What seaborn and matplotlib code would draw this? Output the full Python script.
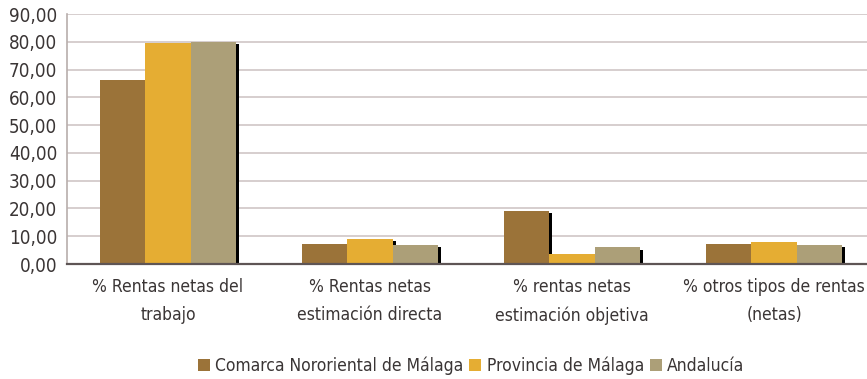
import matplotlib
matplotlib.use("Agg")
import matplotlib.pyplot as plt
import matplotlib.patheffects as pe
from matplotlib.patches import Patch
from matplotlib.ticker import FixedLocator, FuncFormatter
import seaborn as sns
import pandas as pd

categories = [
    "% Rentas netas del\ntrabajo",
    "% Rentas netas\nestimación directa",
    "% rentas netas\nestimación objetiva",
    "% otros tipos de rentas\n(netas)",
]
series_names = ["Comarca Nororiental de Málaga", "Provincia de Málaga", "Andalucía"]
comarca = [66.2, 7.3, 19.1, 7.3]
provincia = [79.6, 9.0, 3.7, 7.8]
andalucia = [79.9, 6.8, 6.0, 6.8]
colors = ["#9B7339", "#E5AD33", "#AC9F78"]

rows = []
for name, vals in zip(series_names, [comarca, provincia, andalucia]):
    for cat, v in zip(categories, vals):
        rows.append({"categoria": cat, "serie": name, "valor": v})
df = pd.DataFrame(rows)

sns.set_theme(style="white")
plt.rcParams["font.family"] = ["DejaVu Sans"]
plt.rcParams["font.stretch"] = "condensed"
text_color = "#3a3535"

fig = plt.figure(figsize=(8.67, 3.79), dpi=100)
ax = fig.add_axes([67 / 867, 1 - 264 / 379, 808 / 867, 250 / 379])

sns.barplot(data=df, x="categoria", y="valor", hue="serie", order=categories,
            hue_order=series_names, palette=colors, width=0.67, saturation=1,
            errorbar=None, legend=False, ax=ax, zorder=3)

shadow = [pe.SimplePatchShadow(offset=(2.2, -1.6), shadow_rgbFace="black", alpha=1.0),
          pe.Normal()]
for p in ax.patches:
    p.set_linewidth(0)
    p.set_path_effects(shadow)

ax.set_ylim(0, 90)
ax.set_xlim(-0.5, 3.5)
ax.set_yticks(range(0, 91, 10))
ax.yaxis.set_major_formatter(FuncFormatter(lambda v, _: f"{v:.2f}".replace(".", ",")))
ax.yaxis.grid(True, color="#D3CACA", linewidth=1.3, zorder=0)
ax.set_axisbelow(True)

ax.xaxis.set_minor_locator(FixedLocator([-0.5, 0.5, 1.5, 2.5, 3.5]))
ax.tick_params(axis="x", which="major", length=0, pad=10, labelsize=12.5, colors=text_color)
ax.tick_params(axis="x", which="minor", length=4, width=1, color="#6a6060", direction="out")
ax.tick_params(axis="y", which="major", length=5, width=1, color="#B8AEAC", direction="out",
               labelsize=13.5, labelcolor=text_color, pad=2)
for lbl in ax.get_xticklabels():
    lbl.set_linespacing(1.75)
    lbl.set_va("top")

ax.set_xlabel("")
ax.set_ylabel("")
for side in ["top", "right"]:
    ax.spines[side].set_visible(False)
ax.spines["left"].set_color("#B8AEAC")
ax.spines["left"].set_linewidth(1.2)
ax.spines["bottom"].set_color("#5E5555")
ax.spines["bottom"].set_linewidth(1.6)
ax.spines["bottom"].set_zorder(5)

handles = [Patch(facecolor=c, edgecolor="none") for c in colors]
fig.legend(handles, series_names, loc="center", bbox_to_anchor=(471 / 867, 1 - 366 / 379),
           ncol=3, frameon=False, fontsize=12.5, handlelength=0.7, handleheight=0.7,
           handletextpad=0.3, columnspacing=0.35, labelcolor=text_color)

fig.savefig("out.png", dpi=100)
